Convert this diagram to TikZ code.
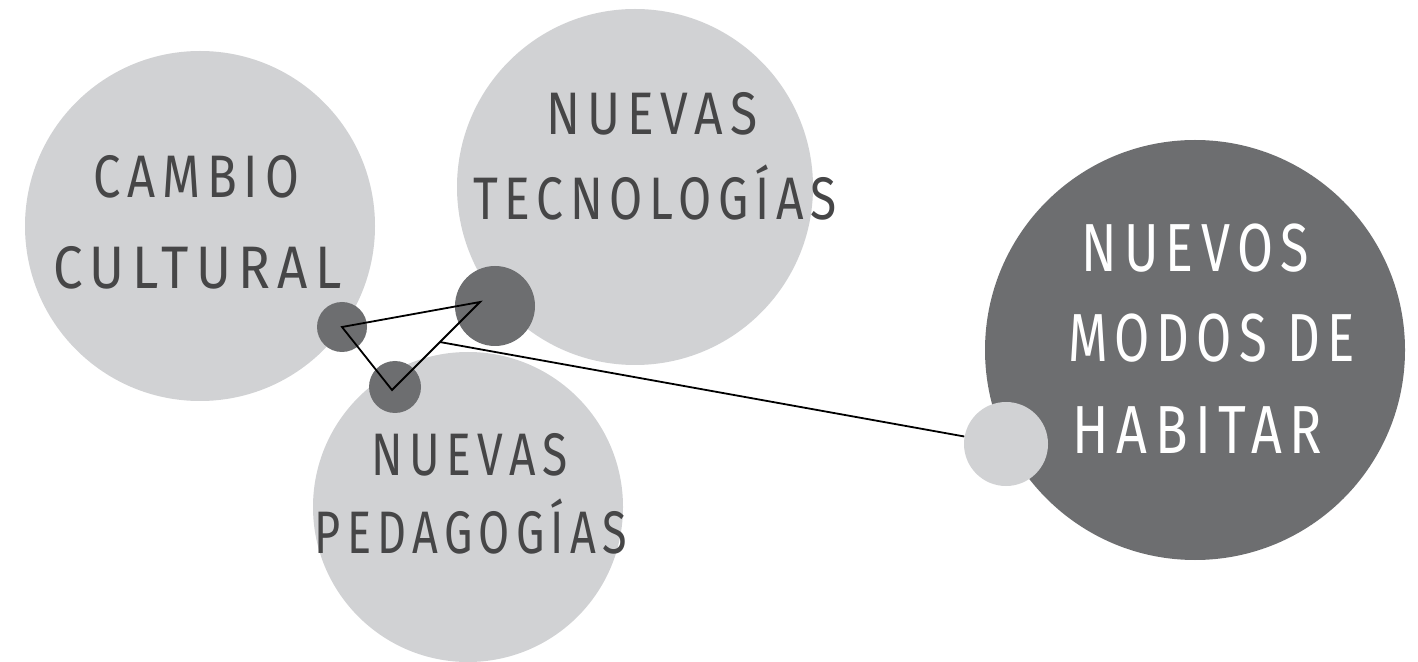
\documentclass[tikz,border=0pt]{standalone}
\usepackage{fontspec}
\usetikzlibrary{calc}
\setmainfont{Fira Sans}[LetterSpace=14]
\definecolor{light}{HTML}{D1D2D4}
\definecolor{dark}{HTML}{6D6E70}
\definecolor{txt}{HTML}{464647}
\tikzset{
  bigc/.style={circle, fill=light, inner sep=0pt},
  darkc/.style={circle, fill=dark, inner sep=0pt},
  lbl/.style={text=txt, font=\fontsize{30}{36}\selectfont, anchor=base, transform shape, inner sep=0pt},
  wlbl/.style={text=white, font=\fontsize{34}{40}\selectfont, anchor=base, transform shape, inner sep=0pt},
  thin/.style={draw=black, line width=0.9pt}
}
\begin{document}
\begin{tikzpicture}[x=0.5pt,y=-0.5pt]
\useasboundingbox (0,0) rectangle (1418,662);
\fill[white] (0,0) rectangle (1418,662);
% big circles
\node[bigc, minimum size=175pt] (cc) at (200,226) {};
\node[bigc, minimum size=178pt] (nt) at (635,187) {};
\node[bigc, minimum size=155pt] (np) at (468,507) {};
\node[circle, fill=dark, minimum size=210pt, inner sep=0pt] (nm) at (1195,350) {};
\node[bigc, minimum size=42pt] (sm) at (1006,444) {};
% dark small circles
\node[darkc, minimum size=25pt] (a) at (342,327) {};
\node[darkc, minimum size=40pt] (b) at (495,306) {};
\node[darkc, minimum size=26pt] (c) at (395,387) {};
% triangle
\coordinate (ta) at (342,327);
\coordinate (tb) at (480,302);
\coordinate (tc) at (392,390);
\draw[thin, line join=miter] (ta) -- (tb) -- (tc) -- cycle;
\coordinate (ls) at ($(tc)!0.545!(tb)$);
\draw[thin] (ls) -- (sm);
% labels (anchored on baseline)
\node[lbl, xscale=0.816] (t1) at (196,198) {CAMBIO};
\node[lbl, xscale=0.88]  (t2) at (197.5,289) {CULTURAL};
\node[lbl, xscale=0.83]  (t3) at (652,135) {NUEVAS};
\node[lbl, xscale=0.8]   (t4) at (655,220) {TECNOLOGÍAS};
\node[lbl, xscale=0.77]  (t5) at (469.5,475) {NUEVAS};
\node[lbl, xscale=0.75]  (t6) at (471,553) {PEDAGOGÍAS};
\node[wlbl, xscale=0.766] (t7) at (1195,272) {NUEVOS};
\node[wlbl, xscale=0.75]  (t8) at (1211.5,362) {MODOS DE};
\node[wlbl, xscale=0.79]  (t9) at (1197.5,453) {HABITAR};
\end{tikzpicture}
\end{document}
